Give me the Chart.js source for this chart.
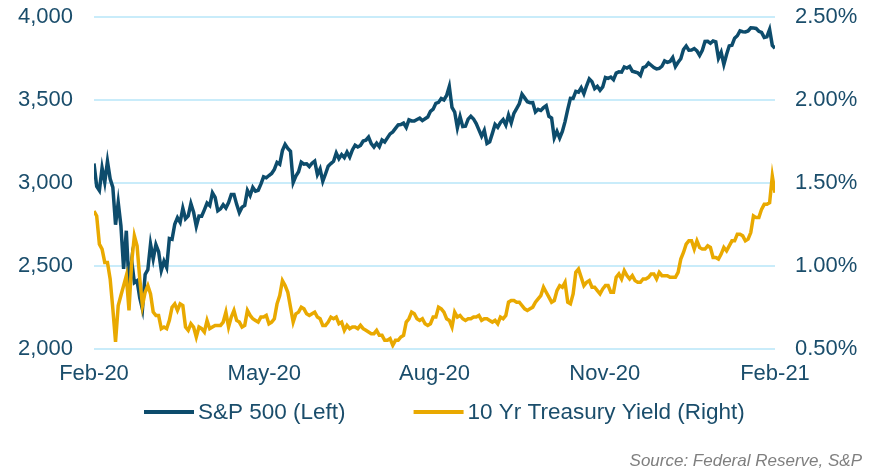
<!DOCTYPE html>
<html>
<head>
<meta charset="utf-8">
<script src="https://cdn.jsdelivr.net/npm/chart.js@4.4.1/dist/chart.umd.min.js"></script>
<style>
    html, body { margin: 0; padding: 0; background: #ffffff; }
    #wrap { width: 884px; height: 472px; }
</style>
</head>
<body>
<div id="wrap"><canvas id="Line"></canvas></div>
<script>
const tickLabels = ["Feb-20", "May-20", "Aug-20", "Nov-20", "Feb-21"]; // Eje X
const leftTicks = [2000, 2500, 3000, 3500, 4000];
const rightTicks = [0.5, 1.0, 1.5, 2.0, 2.5];

// S&P 500, cierre diario (26-feb-2020 .. 26-feb-2021)
const spx = [
    3116, 2979, 2954, // feb
    3090, 3003, 3130, 3024, 2972, 2747, 2882, 2741, 2481, 2711, 2386, 2529, 2398, 2409, 2305, 2237, 2447, 2476, 2630, 2541, 2627, 2585, // mar
    2471, 2527, 2489, 2664, 2659, 2750, 2790, 2762, 2846, 2783, 2800, 2875, 2823, 2737, 2799, 2798, 2837, 2878, 2863, 2940, 2912, // abr
    2831, 2843, 2868, 2848, 2881, 2930, 2930, 2870, 2820, 2853, 2864, 2954, 2923, 2972, 2949, 2955, 2992, 3036, 3030, 3044, // may
    3056, 3081, 3123, 3112, 3194, 3232, 3207, 3190, 3002, 3041, 3067, 3125, 3113, 3115, 3098, 3118, 3131, 3050, 3084, 3009, 3053, 3100, // jun
    3116, 3130, 3180, 3145, 3170, 3152, 3185, 3155, 3198, 3227, 3216, 3225, 3252, 3257, 3276, 3236, 3216, 3239, 3218, 3258, 3246, 3271, // jul
    3295, 3307, 3328, 3349, 3351, 3360, 3334, 3380, 3373, 3373, 3382, 3390, 3375, 3386, 3397, 3431, 3444, 3479, 3485, 3508, 3500, // ago
    3527, 3581, 3455, 3427, 3332, 3399, 3339, 3341, 3384, 3401, 3385, 3357, 3319, 3281, 3316, 3237, 3247, 3298, 3352, 3335, 3363, // sep
    3381, 3348, 3409, 3361, 3419, 3447, 3477, 3534, 3512, 3489, 3483, 3484, 3427, 3443, 3436, 3453, 3465, 3401, 3391, 3271, 3310, 3270, // oct
    3310, 3369, 3443, 3510, 3509, 3551, 3546, 3573, 3537, 3585, 3627, 3610, 3568, 3582, 3558, 3578, 3635, 3630, 3638, 3622, // nov
    3662, 3669, 3667, 3699, 3692, 3702, 3673, 3668, 3663, 3647, 3695, 3701, 3722, 3709, 3695, 3687, 3690, 3703, 3735, 3727, 3732, 3756, // dic
    3701, 3727, 3748, 3804, 3825, 3800, 3801, 3810, 3796, 3768, 3799, 3852, 3853, 3841, 3855, 3850, 3751, 3787, 3714, // ene
    3774, 3826, 3830, 3872, 3887, 3916, 3911, 3910, 3916, 3935, 3933, 3931, 3914, 3907, 3877, 3881, 3925, 3829, 3811 // feb
]; // Eje Y izquierdo

// Rendimiento del bono a 10 años (%), mismas fechas; null = mercado de bonos cerrado
const yld = [
    1.33, 1.30, 1.13,
    1.10, 1.02, 1.02, 0.92, 0.74, 0.54, 0.76, 0.82, 0.88, 0.94, 0.73, 1.02, 1.18, 1.12, 0.92, 0.76, 0.84, 0.88, 0.83, 0.72, 0.70, 0.70,
    0.62, 0.63, 0.62, 0.67, 0.75, 0.77, 0.73, 0.77, 0.76, 0.63, 0.61, 0.65, 0.63, 0.57, 0.63, 0.62, 0.60, 0.67, 0.62, 0.63, 0.64,
    0.64, 0.64, 0.66, 0.72, 0.63, 0.69, 0.73, 0.67, 0.66, 0.63, 0.64, 0.73, 0.70, 0.68, 0.67, 0.66, 0.69, 0.69, 0.70, 0.65,
    0.66, 0.68, 0.77, 0.82, 0.91, 0.88, 0.84, 0.75, 0.66, 0.71, 0.72, 0.75, 0.74, 0.71, 0.70, 0.71, 0.72, 0.69, 0.68, 0.64, 0.64, 0.66,
    0.69, 0.68, 0.69, 0.65, 0.66, 0.61, 0.64, 0.62, 0.63, 0.63, 0.62, 0.64, 0.62, 0.61, 0.60, 0.59, 0.59, 0.61, 0.58, 0.58, 0.55, 0.55,
    0.56, 0.52, 0.55, 0.55, 0.57, 0.58, 0.66, 0.68, 0.72, 0.71, 0.68, 0.67, 0.68, 0.65, 0.64, 0.65, 0.69, 0.69, 0.75, 0.74, 0.72,
    0.68, 0.67, 0.63, 0.72, 0.69, 0.70, 0.68, 0.67, 0.68, 0.68, 0.69, 0.69, 0.70, 0.67, 0.68, 0.68, 0.67, 0.66, 0.67, 0.65, 0.69,
    0.68, 0.70, 0.78, 0.79, 0.79, 0.78, 0.78, null, 0.74, 0.73, 0.74, 0.75, 0.78, 0.80, 0.82, 0.87, 0.84, 0.81, 0.78, 0.79, 0.85, 0.88,
    0.87, 0.90, 0.78, 0.77, 0.83, 0.96, 0.98, null, 0.88, 0.90, 0.91, 0.87, 0.87, 0.85, 0.83, 0.86, 0.88, 0.88, 0.84, 0.84,
    0.93, 0.95, 0.92, 0.97, 0.94, 0.92, 0.94, 0.91, 0.90, 0.90, 0.92, 0.92, 0.93, 0.95, 0.95, 0.92, 0.96, 0.94, 0.94, 0.94, 0.93, 0.93,
    0.93, 0.96, 1.04, 1.08, 1.13, 1.15, 1.15, 1.10, 1.15, 1.11, 1.10, 1.10, 1.12, 1.11, 1.05, 1.05, 1.04, 1.07, 1.11,
    1.09, 1.12, 1.15, 1.15, 1.19, 1.19, 1.18, 1.15, 1.16, 1.20, 1.30, 1.29, 1.29, 1.34, 1.37, 1.37, 1.38, 1.54, 1.44
]; // Eje Y derecho

const spxLabel = "S&P 500 (Left)";
const yldLabel = "10 Yr Treasury Yield (Right)";
const source = "Source: Federal Reserve, S&P";

const navy = '#0d4c6c';
const gold = '#e9a900';
const textColor = '#1a4d6b';
const fontFamily = '"Liberation Sans", Arial, Helvetica, sans-serif';

// Leyenda y fuente dibujadas a mano debajo del eje X
const bottomText = {
    id: 'bottomText',
    afterDraw(chart) {
        const ctx = chart.ctx;
        const area = chart.chartArea;
        ctx.save();
        ctx.textBaseline = 'middle';
        ctx.font = '22.5px ' + fontFamily;

        let x = area.left + 50;
        const y = 412;
        chart.data.datasets.forEach((ds) => {
            ctx.strokeStyle = ds.borderColor;
            ctx.lineWidth = 4;
            ctx.beginPath();
            ctx.moveTo(x, y);
            ctx.lineTo(x + 50, y);
            ctx.stroke();
            x += 54;
            ctx.fillStyle = textColor;
            ctx.textAlign = 'left';
            ctx.fillText(ds.label, x, y + 1);
            x += ctx.measureText(ds.label).width + 68;
        });

        ctx.font = 'italic 17px ' + fontFamily;
        ctx.fillStyle = '#7f7f7f';
        ctx.textAlign = 'right';
        ctx.fillText(source, chart.width - 22, 461);
        ctx.restore();
    }
};

// ancho fijo del eje y sin margen extra arriba/abajo
function fixAxis(width) {
    return (scale) => {
        scale.width = width;
        scale.paddingTop = 0;
        scale.paddingBottom = 0;
    };
}

function fnLine() {
    const line = document.querySelector("#Line");
    const n = spx.length;

    const dsSpx = {
        label: spxLabel,
        data: spx.map((v, i) => ({ x: i, y: v })),
        yAxisID: 'y',
        borderColor: navy,
        backgroundColor: navy,
        borderWidth: 3.5,
        pointRadius: 0,
        order: 1
    };
    const dsYld = {
        label: yldLabel,
        data: yld.map((v, i) => ({ x: i, y: v })),
        yAxisID: 'y1',
        borderColor: gold,
        backgroundColor: gold,
        borderWidth: 3.5,
        pointRadius: 0,
        spanGaps: true,
        order: 0 // se dibuja encima
    };

    new Chart(line, {
        type: 'line',
        data: { datasets: [dsSpx, dsYld] },
        plugins: [bottomText],
        options: {
            responsive: true,
            maintainAspectRatio: false,
            animation: false,
            layout: { padding: { left: 18, right: 26, top: 17, bottom: 81 } },
            scales: {
                x: {
                    type: 'linear',
                    min: 0,
                    max: n - 1,
                    grid: { display: false },
                    border: { display: false },
                    afterBuildTicks: (scale) => {
                        scale.ticks = tickLabels.map((t, i) => ({ value: i * (n - 1) / (tickLabels.length - 1) }));
                    },
                    ticks: {
                        autoSkip: false,
                        maxRotation: 0,
                        padding: 4,
                        color: textColor,
                        font: { family: fontFamily, size: 22 },
                        callback: (v, i) => tickLabels[i]
                    }
                },
                y: {
                    position: 'left',
                    min: leftTicks[0],
                    max: leftTicks[leftTicks.length - 1],
                    afterBuildTicks: (scale) => { scale.ticks = leftTicks.map(v => ({ value: v })); },
                    afterFit: fixAxis(76),
                    grid: { color: '#c9ecfa', lineWidth: 2, drawTicks: false },
                    border: { display: false },
                    ticks: {
                        padding: 21,
                        color: textColor,
                        font: { family: fontFamily, size: 22 },
                        callback: (v) => v.toLocaleString('en-US')
                    }
                },
                y1: {
                    position: 'right',
                    min: rightTicks[0],
                    max: rightTicks[rightTicks.length - 1],
                    afterBuildTicks: (scale) => { scale.ticks = rightTicks.map(v => ({ value: v })); },
                    afterFit: fixAxis(83),
                    grid: { display: false, drawTicks: false },
                    border: { display: false },
                    ticks: {
                        padding: 20,
                        color: textColor,
                        font: { family: fontFamily, size: 22 },
                        callback: (v) => v.toFixed(2) + '%'
                    }
                }
            },
            plugins: {
                legend: { display: false },
                tooltip: { enabled: false }
            }
        }
    });
}

fnLine();
</script>
</body>
</html>
